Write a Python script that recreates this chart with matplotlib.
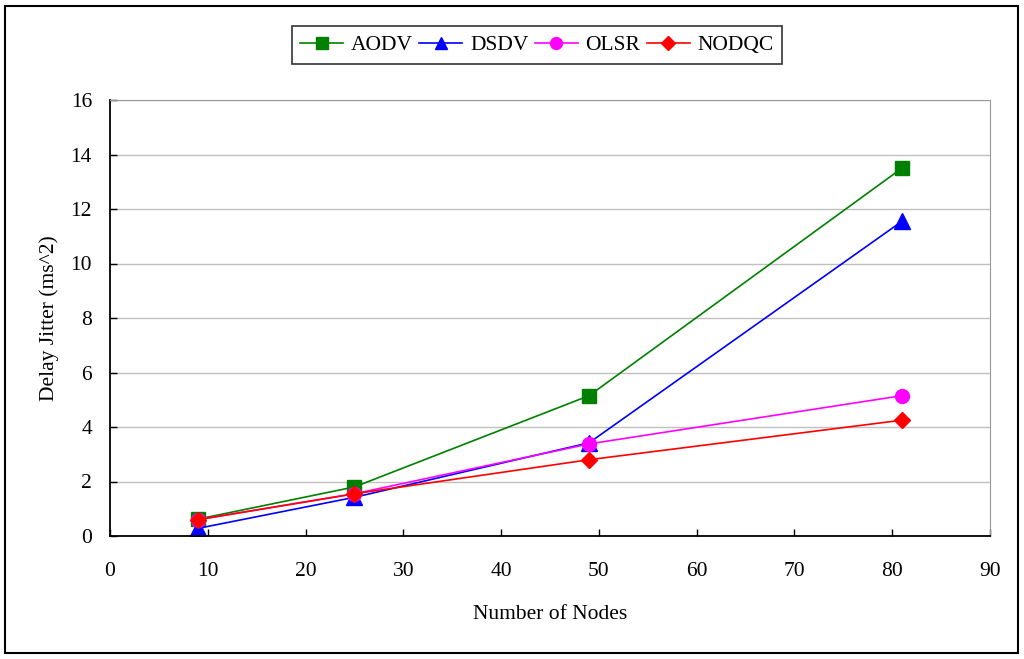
import numpy as np
import matplotlib
matplotlib.use('Agg')
import matplotlib.pyplot as plt
from matplotlib.patches import Rectangle

plt.rcParams['font.family'] = ['Liberation Serif', 'DejaVu Serif']

# datos
nodes = [9, 25, 49, 81]
aodv = [0.62, 1.8, 5.15, 13.5]
dsdv = [0.28, 1.42, 3.42, 11.55]
olsr = [0.6, 1.55, 3.38, 5.15]
nodqc = [0.6, 1.55, 2.8, 4.25]

fig = plt.figure(figsize=(10.24, 6.59), dpi=100)
ax = fig.add_axes([110/1024, 1 - 536/659, 880/1024, 436/659])

ax.plot(nodes, aodv, '-s', color='green', lw=1.2, ms=10, label='AODV')
ax.plot(nodes, dsdv, '-^', color='blue', lw=1.2, ms=11, label='DSDV')
ax.plot(nodes, olsr, '-o', color='magenta', lw=1.2, ms=10, label='OLSR')
ax.plot(nodes, nodqc, '-D', color='red', lw=1.2, ms=8, label='NODQC')

ax.set_xlim(0, 90)
ax.set_ylim(0, 16)
ax.set_xticks(np.arange(0, 91, 10))
ax.set_yticks(np.arange(0, 17, 2))
ax.yaxis.grid(True, color='#c0c0c0', lw=1)
ax.set_axisbelow(True)
ax.tick_params(direction='in', length=5, width=1, labelsize=15.5, pad=13)
ax.tick_params(axis='x', pad=19)
for s in ['top', 'right']:
    ax.spines[s].set_color('#999999')
for s in ['left', 'bottom']:
    ax.spines[s].set_color('black')
    ax.spines[s].set_linewidth(1.3)

ax.set_xlabel('Number of Nodes', fontsize=15.5, labelpad=17)
ax.set_ylabel('Delay Jitter (ms^2)', fontsize=15.5, labelpad=8)

leg = ax.legend(loc='center', bbox_to_anchor=(537/1024, 1 - 45/659),
                bbox_transform=fig.transFigure, ncol=4, fontsize=15.5,
                frameon=True, fancybox=False, edgecolor='black',
                handlelength=2.0, columnspacing=0.3, handletextpad=0.35,
                borderpad=0.4, markerscale=0.85)
leg.get_frame().set_linewidth(1.2)

fig.patches.append(Rectangle((5/1024, 1 - 653/659), 1013/1024, 647/659,
                             transform=fig.transFigure, fill=False,
                             edgecolor='black', lw=1.5))

plt.savefig('out.png', dpi=100)
plt.close()
